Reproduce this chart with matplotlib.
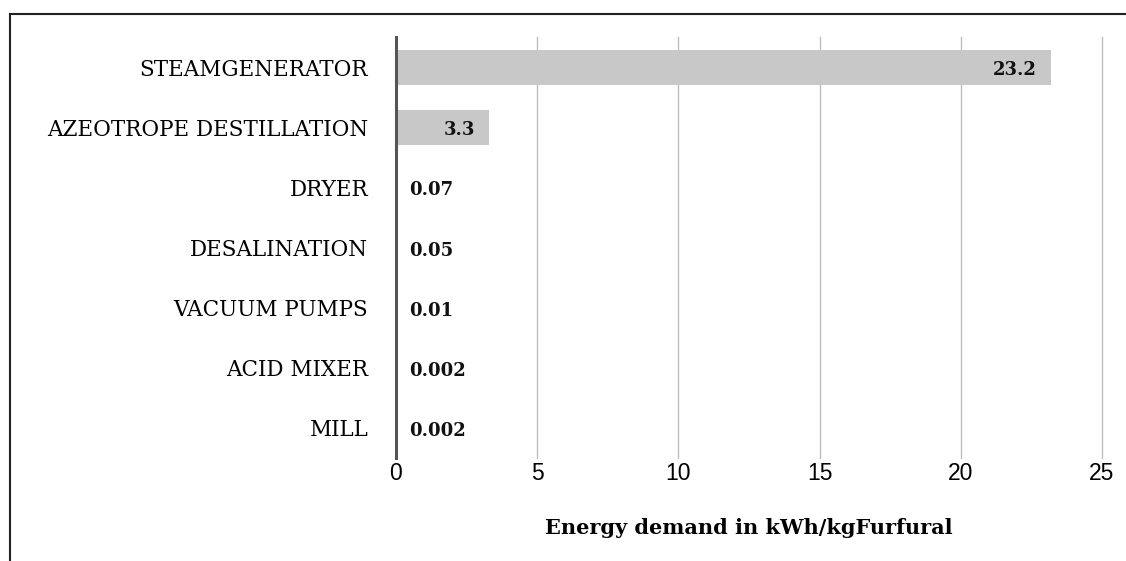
import matplotlib.pyplot as plt
from matplotlib.lines import Line2D

# data
categories = ["STEAMGENERATOR", "AZEOTROPE DESTILLATION", "DRYER", "DESALINATION",
              "VACUUM PUMPS", "ACID MIXER", "MILL"]
values = [23.2, 3.3, 0.07, 0.05, 0.01, 0.002, 0.002]
value_labels = ["23.2", "3.3", "0.07", "0.05", "0.01", "0.002", "0.002"]
xticks = [0, 5, 10, 15, 20, 25]

fig = plt.figure(figsize=(11.26, 5.61), dpi=100)
ax = fig.add_axes([396 / 1126, 1 - 458 / 561, (1102 - 396) / 1126, (458 - 37) / 561])

y = list(range(len(categories)))
ax.barh(y, values, height=0.58, color="#c8c8c8", zorder=2)

for yi, v, lab in zip(y, values, value_labels):
    if v > 1:
        ax.text(v - 0.5, yi + 0.05, lab, ha="right", va="center", family="DejaVu Serif",
                fontweight="bold", fontsize=13, color="#111111", zorder=3)
    else:
        ax.text(0.45, yi + 0.05, lab, ha="left", va="center", family="DejaVu Serif",
                fontweight="bold", fontsize=13, color="#111111", zorder=3)

ax.set_xlim(0, 25)
ax.set_ylim(len(categories) - 0.5, -0.5)
ax.set_xticks(xticks)
ax.set_xticklabels([str(t) for t in xticks], family="Liberation Sans", fontsize=16.5)
ax.set_yticks(y)
ax.set_yticklabels(categories, family="DejaVu Serif", fontsize=15.5)
ax.tick_params(axis="both", length=0)
ax.tick_params(axis="x", pad=3)
ax.tick_params(axis="y", pad=20)

ax.grid(axis="x", color="#bdbdbd", linewidth=1, zorder=0)
for gl in ax.get_xgridlines():
    gl.set_clip_on(False)
for s in ["top", "right", "bottom"]:
    ax.spines[s].set_visible(False)
ax.spines["left"].set_color("#555555")
ax.spines["left"].set_linewidth(2.2)
ax.spines["left"].set_zorder(4)

ax.set_xlabel("Energy demand in kWh/kgFurfural", family="DejaVu Serif",
              fontweight="bold", fontsize=15, labelpad=24)

# frame lines around the figure
fig.add_artist(Line2D([10 / 1126, 1], [1 - 14 / 561, 1 - 14 / 561],
                      transform=fig.transFigure, color="#222222", linewidth=1.5))
fig.add_artist(Line2D([10 / 1126, 10 / 1126], [0, 1 - 14 / 561],
                      transform=fig.transFigure, color="#222222", linewidth=1.5))

plt.savefig("out.png")
plt.close()
